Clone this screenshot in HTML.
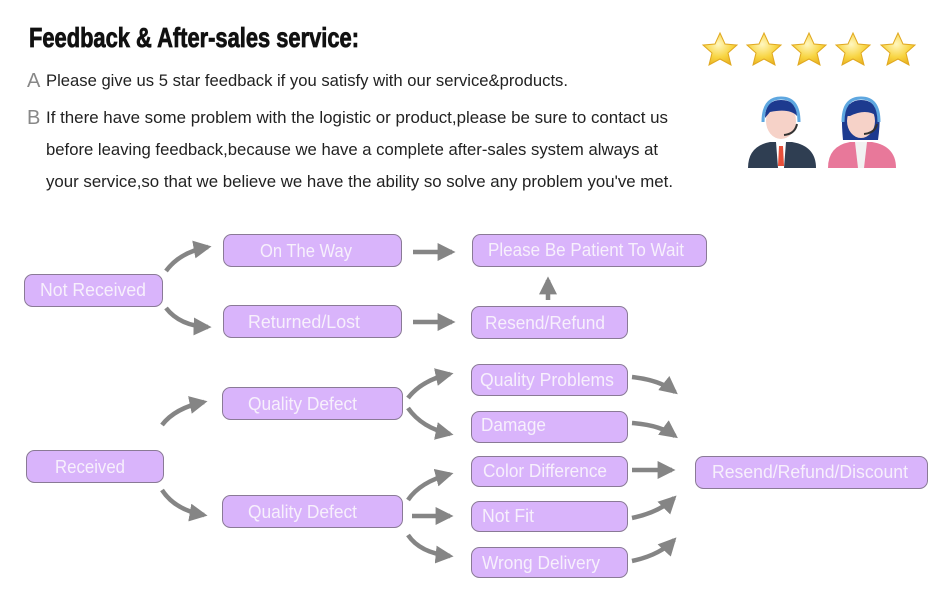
<!DOCTYPE html>
<html><head><meta charset="utf-8"><style>
html,body{margin:0;padding:0;background:#fff;}
svg{display:block;}
.t{font-family:"Liberation Sans",sans-serif;}
</style></head><body>
<svg width="950" height="600" viewBox="0 0 950 600" xmlns="http://www.w3.org/2000/svg">
<defs>
<marker id="ah" viewBox="0 0 10 10" refX="8" refY="5" markerWidth="4" markerHeight="4" orient="auto" markerUnits="strokeWidth">
<path d="M0,0 L10,5 L0,10 z" fill="#858585"/>
</marker>
<radialGradient id="sg" cx="0.45" cy="0.35" r="0.7"><stop offset="0" stop-color="#fff7c0"/><stop offset="0.6" stop-color="#f8d440"/><stop offset="1" stop-color="#e8b020"/></radialGradient>
</defs>
<text x="29" y="47" font-family="'Liberation Sans Narrow','Liberation Sans',sans-serif" font-weight="bold" font-size="28" textLength="330" lengthAdjust="spacingAndGlyphs" fill="#111" stroke="#111" stroke-width="0.8">Feedback &amp; After-sales service:</text>
<g class="t" font-size="17" fill="#222">
<text x="27" y="87" fill="#888" font-size="20">A</text>
<text x="46" y="86" textLength="522" lengthAdjust="spacingAndGlyphs">Please give us 5 star feedback if you satisfy with our service&amp;products.</text>
<text x="27" y="124" fill="#888" font-size="20">B</text>
<text x="46" y="123" textLength="622" lengthAdjust="spacingAndGlyphs">If there have some problem with the logistic or product,please be sure to contact us</text>
<text x="46" y="155" textLength="612" lengthAdjust="spacingAndGlyphs">before leaving feedback,because we have a complete after-sales system always at</text>
<text x="46" y="187" textLength="627" lengthAdjust="spacingAndGlyphs">your service,so that we believe we have the ability so solve any problem you've met.</text>
</g>
<g fill="url(#sg)" stroke="#e0a820" stroke-width="1">
<path d="M0,-17 L5,-6 L17,-5 L8,3 L11,15 L0,9 L-11,15 L-8,3 L-17,-5 L-5,-6 Z" transform="translate(720,50)"/>
<path d="M0,-17 L5,-6 L17,-5 L8,3 L11,15 L0,9 L-11,15 L-8,3 L-17,-5 L-5,-6 Z" transform="translate(764,50)"/>
<path d="M0,-17 L5,-6 L17,-5 L8,3 L11,15 L0,9 L-11,15 L-8,3 L-17,-5 L-5,-6 Z" transform="translate(809,50)"/>
<path d="M0,-17 L5,-6 L17,-5 L8,3 L11,15 L0,9 L-11,15 L-8,3 L-17,-5 L-5,-6 Z" transform="translate(853,50)"/>
<path d="M0,-17 L5,-6 L17,-5 L8,3 L11,15 L0,9 L-11,15 L-8,3 L-17,-5 L-5,-6 Z" transform="translate(898,50)"/>
</g>
<g>
<path d="M748,168 Q748,146 770,142 L792,142 Q816,146 816,168 Z" fill="#2f3e52"/>
<path d="M776,142 L786,142 L784,168 L778,168 Z" fill="#fff"/>
<path d="M779,146 L783,146 L784,166 L778,166 Z" fill="#e8503a"/>
<ellipse cx="781" cy="121" rx="15" ry="18" fill="#f6d2c8"/>
<path d="M765,118 Q765,100 781,100 Q797,100 797,116 Q790,108 770,112 Z" fill="#1d3a8f"/>
<path d="M763,122 Q763,98 781,98 Q799,98 799,122" fill="none" stroke="#5ea7e0" stroke-width="3"/>
<path d="M797,124 Q795,134 784,135" fill="none" stroke="#333" stroke-width="2"/>
<path d="M828,168 Q828,146 850,142 L872,142 Q896,146 896,168 Z" fill="#e8789a"/>
<path d="M855,142 L867,142 L864,168 L858,168 Z" fill="#f2f2f2"/>
<path d="M843,140 Q840,110 846,104 L876,104 Q882,112 878,140 Z" fill="#1d3a8f"/>
<ellipse cx="861" cy="121" rx="14" ry="17" fill="#f6d2c8"/>
<path d="M845,116 Q847,100 861,100 Q876,100 877,116 Q866,108 850,116 Z" fill="#1d3a8f"/>
<path d="M843,122 Q843,98 861,98 Q879,98 879,122" fill="none" stroke="#5ea7e0" stroke-width="3"/>
<path d="M877,124 Q875,133 864,134" fill="none" stroke="#333" stroke-width="2"/>
</g>
<g fill="#d9b4fb" stroke="#8a7a96" stroke-width="1">
<rect x="24.5" y="274.5" width="138" height="32" rx="8"/>
<rect x="223.5" y="234.5" width="178" height="32" rx="8"/>
<rect x="223.5" y="305.5" width="178" height="32" rx="8"/>
<rect x="472.5" y="234.5" width="234" height="32" rx="8"/>
<rect x="471.5" y="306.5" width="156" height="32" rx="8"/>
<rect x="222.5" y="387.5" width="180" height="32" rx="8"/>
<rect x="26.5" y="450.5" width="137" height="32" rx="8"/>
<rect x="222.5" y="495.5" width="180" height="32" rx="8"/>
<rect x="471.5" y="364.5" width="156" height="31" rx="8"/>
<rect x="471.5" y="411.5" width="156" height="31" rx="8"/>
<rect x="471.5" y="456.5" width="156" height="30" rx="8"/>
<rect x="471.5" y="501.5" width="156" height="30" rx="8"/>
<rect x="471.5" y="547.5" width="156" height="30" rx="8"/>
<rect x="695.5" y="456.5" width="232" height="32" rx="8"/>
</g>
<g class="t" font-size="18" fill="#f7f0fc" lengthAdjust="spacingAndGlyphs">
<text x="40" y="296" textLength="106" lengthAdjust="spacingAndGlyphs">Not Received</text>
<text x="260" y="257" textLength="92" lengthAdjust="spacingAndGlyphs">On The Way</text>
<text x="248" y="328" textLength="112" lengthAdjust="spacingAndGlyphs">Returned/Lost</text>
<text x="488" y="256" textLength="196" lengthAdjust="spacingAndGlyphs">Please Be Patient To Wait</text>
<text x="485" y="329" textLength="120" lengthAdjust="spacingAndGlyphs">Resend/Refund</text>
<text x="248" y="410" textLength="109" lengthAdjust="spacingAndGlyphs">Quality Defect</text>
<text x="55" y="473" textLength="70" lengthAdjust="spacingAndGlyphs">Received</text>
<text x="248" y="518" textLength="109" lengthAdjust="spacingAndGlyphs">Quality Defect</text>
<text x="712" y="478" textLength="196" lengthAdjust="spacingAndGlyphs">Resend/Refund/Discount</text>
<text x="480" y="386" textLength="134" lengthAdjust="spacingAndGlyphs">Quality Problems</text>
<text x="481" y="431" textLength="65" lengthAdjust="spacingAndGlyphs">Damage</text>
<text x="483" y="477" textLength="124" lengthAdjust="spacingAndGlyphs">Color Difference</text>
<text x="482" y="522" textLength="52" lengthAdjust="spacingAndGlyphs">Not Fit</text>
<text x="482" y="569" textLength="118" lengthAdjust="spacingAndGlyphs">Wrong Delivery</text>
</g>
<g fill="none" stroke="#858585" stroke-width="4.5" marker-end="url(#ah)">
<path d="M166,271 Q180,252 208,247"/>
<path d="M166,308 Q180,326 208,327"/>
<path d="M413,252 L452,252"/>
<path d="M413,322 L452,322"/>
<path d="M548,300 L548,280"/>
<path d="M162,425 Q175,408 204,402"/>
<path d="M162,490 Q175,510 204,515"/>
<path d="M408,398 Q422,380 450,374"/>
<path d="M408,408 Q422,428 450,434"/>
<path d="M408,500 Q420,482 450,474"/>
<path d="M412,516 L450,516"/>
<path d="M408,535 Q420,553 450,556"/>
<path d="M632,377 Q660,380 675,392"/>
<path d="M632,423 Q660,425 675,436"/>
<path d="M632,470 L672,470"/>
<path d="M632,518 Q660,512 674,498"/>
<path d="M632,561 Q660,555 674,540"/>
</g>
</svg>
</body></html>
